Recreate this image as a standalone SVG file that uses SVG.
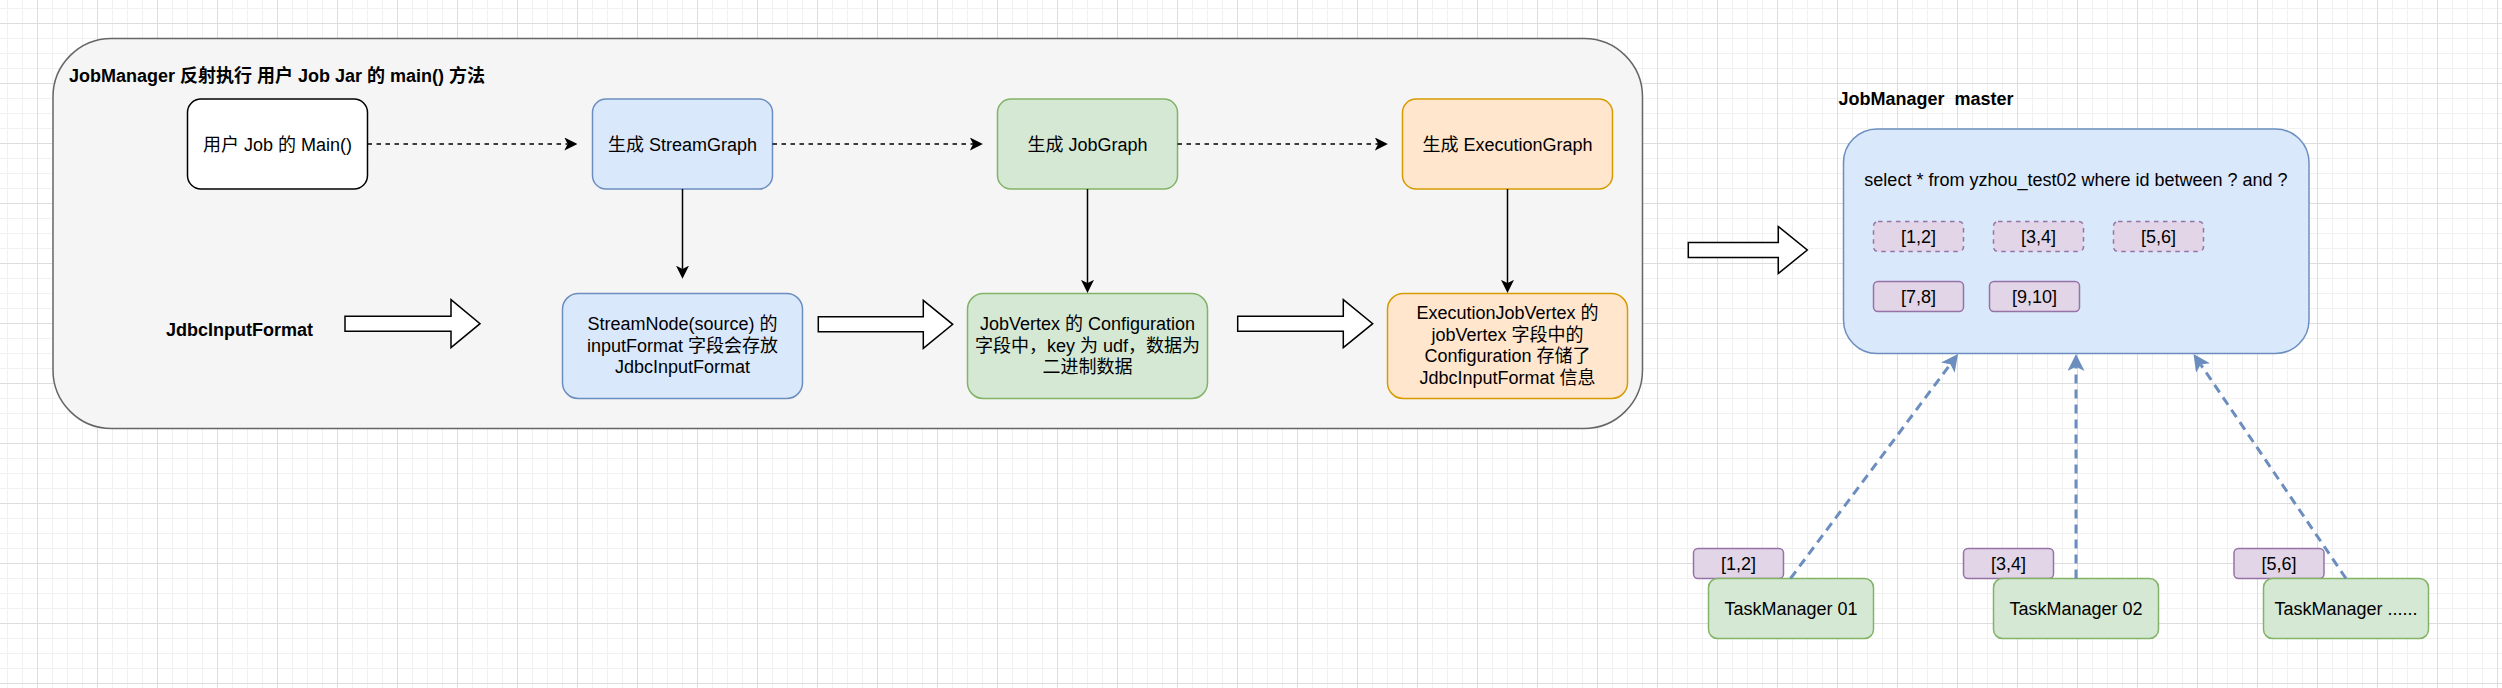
<svg xmlns="http://www.w3.org/2000/svg" width="2502" height="688" viewBox="0 0 2502 688">
<defs>
<style>
text{font-family:"Liberation Sans",Arial,"Noto Sans CJK SC",sans-serif;font-size:18px;fill:#000}
.b{font-weight:bold}
.c{text-anchor:middle}
.pre{white-space:pre}
.ctr{fill:#f5f5f5;stroke:#666666;stroke-width:1.5}
.white{fill:#ffffff;stroke:#000000;stroke-width:1.5}
.blue{fill:#dae8fc;stroke:#6c8ebf;stroke-width:1.5}
.green{fill:#d5e8d4;stroke:#82b366;stroke-width:1.5}
.orange{fill:#ffe6cc;stroke:#d79b00;stroke-width:1.5}
.purple{fill:#e1d5e7;stroke:#9673a6;stroke-width:1.5}
.dsh{stroke-dasharray:4.5 4.5}
.edge{fill:none;stroke:#000000;stroke-width:1.5}
.dotted{stroke-dasharray:4.5 4.5}
.bedge{fill:none;stroke:#6c8ebf;stroke-width:3;stroke-dasharray:9 6}
.hollow{fill:#ffffff;stroke:#000000;stroke-width:1.5;stroke-linejoin:miter}
</style>
<pattern id="gminor" width="15" height="15" patternUnits="userSpaceOnUse" x="37" y="23">
<path d="M0 0.5H15M0.5 0V15" stroke="#f1f1f1" stroke-width="1" fill="none"/>
</pattern>
<pattern id="gmajor" width="60" height="60" patternUnits="userSpaceOnUse" x="37" y="23">
<path d="M0 0.5H60M0.5 0V60" stroke="#dddddd" stroke-width="1" fill="none"/>
</pattern>
<marker id="ah" markerUnits="userSpaceOnUse" markerWidth="13" markerHeight="13" viewBox="0 0 12.5 12.5" refX="3.1" refY="6.25" orient="auto">
<path d="M0 0L12.5 6.25L0 12.5L3.1 6.25Z" fill="#000000"/>
</marker>
<marker id="bh" markerUnits="userSpaceOnUse" markerWidth="17" markerHeight="17" viewBox="0 0 17 17" refX="4.25" refY="8.5" orient="auto">
<path d="M0 0L17 8.5L0 17L4.25 8.5Z" fill="#6c8ebf"/>
</marker>
</defs>

<g id="background">
<rect x="0" y="0" width="2502" height="688" fill="#ffffff"/>
<rect x="0" y="0" width="2502" height="688" fill="url(#gminor)"/>
<rect x="0" y="0" width="2502" height="688" fill="url(#gmajor)"/>
</g>

<g id="container">
<rect class="ctr" x="53" y="38.5" width="1589.5" height="390" rx="58.5" ry="58.5"/>
<text class="b" x="69" y="82">JobManager 反射执行 用户 Job Jar 的 main() 方法</text>
</g>

<g id="node-main">
<rect class="white" x="187.5" y="99" width="180" height="90" rx="13.5" ry="13.5"/>
<text class="c" x="277.5" y="150.5">用户 Job 的 Main()</text>
</g>
<g id="node-streamgraph">
<rect class="blue" x="592.5" y="99" width="180" height="90" rx="13.5" ry="13.5"/>
<text class="c" x="682.5" y="150.5">生成 StreamGraph</text>
</g>
<g id="node-jobgraph">
<rect class="green" x="997.5" y="99" width="180" height="90" rx="13.5" ry="13.5"/>
<text class="c" x="1087.5" y="150.5">生成 JobGraph</text>
</g>
<g id="node-executiongraph">
<rect class="orange" x="1402.5" y="99" width="210" height="90" rx="13.5" ry="13.5"/>
<text class="c" x="1507.5" y="150.5">生成 ExecutionGraph</text>
</g>

<g id="node-jdbcinputformat">
<text class="b c" x="239.5" y="335.5">JdbcInputFormat</text>
</g>
<g id="node-streamnode">
<rect class="blue" x="562.5" y="293.5" width="240" height="105" rx="15.75" ry="15.75"/>
<text class="c" x="682.5" y="330">StreamNode(source) 的</text>
<text class="c" x="682.5" y="351.6">inputFormat 字段会存放</text>
<text class="c" x="682.5" y="373.2">JdbcInputFormat</text>
</g>
<g id="node-jobvertex">
<rect class="green" x="967.5" y="293.5" width="240" height="105" rx="15.75" ry="15.75"/>
<text class="c" x="1087.5" y="330">JobVertex 的 Configuration</text>
<text class="c" x="1087.5" y="351.6">字段中，key 为 udf，数据为</text>
<text class="c" x="1087.5" y="373.2">二进制数据</text>
</g>
<g id="node-executionjobvertex">
<rect class="orange" x="1387.5" y="293.5" width="240" height="105" rx="15.75" ry="15.75"/>
<text class="c" x="1507.5" y="319.2">ExecutionJobVertex 的</text>
<text class="c" x="1507.5" y="340.8">jobVertex 字段中的</text>
<text class="c" x="1507.5" y="362.4">Configuration 存储了</text>
<text class="c" x="1507.5" y="384">JdbcInputFormat 信息</text>
</g>

<g id="node-master-label">
<text class="b pre" x="1838.5" y="104.8" xml:space="preserve">JobManager  master</text>
</g>
<g id="node-master">
<rect class="blue" x="1843.5" y="129" width="465.5" height="224.5" rx="33.6" ry="33.6"/>
<text class="c" x="2076" y="186">select * from yzhou_test02 where id between ? and ?</text>
</g>
<g id="node-split-1-2">
<rect class="purple dsh" x="1873.5" y="221.5" width="90" height="30" rx="4.5" ry="4.5"/>
<text class="c" x="1918.5" y="243">[1,2]</text>
</g>
<g id="node-split-3-4">
<rect class="purple dsh" x="1993.5" y="221.5" width="90" height="30" rx="4.5" ry="4.5"/>
<text class="c" x="2038.5" y="243">[3,4]</text>
</g>
<g id="node-split-5-6">
<rect class="purple dsh" x="2113.5" y="221.5" width="90" height="30" rx="4.5" ry="4.5"/>
<text class="c" x="2158.5" y="243">[5,6]</text>
</g>
<g id="node-split-7-8">
<rect class="purple" x="1873.5" y="281.5" width="90" height="30" rx="4.5" ry="4.5"/>
<text class="c" x="1918.5" y="303">[7,8]</text>
</g>
<g id="node-split-9-10">
<rect class="purple" x="1989.5" y="281.5" width="90" height="30" rx="4.5" ry="4.5"/>
<text class="c" x="2034.5" y="303">[9,10]</text>
</g>

<g id="node-tm1-split">
<rect class="purple" x="1693.5" y="548.5" width="90" height="30" rx="4.5" ry="4.5"/>
<text class="c" x="1738.5" y="570">[1,2]</text>
</g>
<g id="node-tm1">
<rect class="green" x="1708.5" y="578.5" width="165" height="60" rx="9" ry="9"/>
<text class="c" x="1791" y="614.5">TaskManager 01</text>
</g>
<g id="node-tm2-split">
<rect class="purple" x="1963.5" y="548.5" width="90" height="30" rx="4.5" ry="4.5"/>
<text class="c" x="2008.5" y="570">[3,4]</text>
</g>
<g id="node-tm2">
<rect class="green" x="1993.5" y="578.5" width="165" height="60" rx="9" ry="9"/>
<text class="c" x="2076" y="614.5">TaskManager 02</text>
</g>
<g id="node-tm3-split">
<rect class="purple" x="2234" y="548.5" width="90" height="30" rx="4.5" ry="4.5"/>
<text class="c" x="2279" y="570">[5,6]</text>
</g>
<g id="node-tm3">
<rect class="green" x="2263.5" y="578.5" width="165" height="60" rx="9" ry="9"/>
<text class="c" x="2346" y="614.5">TaskManager ......</text>
</g>

<g id="connectors">
<path class="edge dotted" d="M367.5 144H567.6" marker-end="url(#ah)"/>
<path class="edge dotted" d="M772.5 144H973.1" marker-end="url(#ah)"/>
<path class="edge dotted" d="M1177.5 144H1378.1" marker-end="url(#ah)"/>
<path class="edge" d="M682.5 189V268.9" marker-end="url(#ah)"/>
<path class="edge" d="M1087.5 189V283.1" marker-end="url(#ah)"/>
<path class="edge" d="M1507.5 189V283.1" marker-end="url(#ah)"/>
<polygon class="hollow" points="345,316.2 451,316.2 451,299.7 480,323.7 451,347.7 451,331.2 345,331.2"/>
<polygon class="hollow" points="818.3,316.8 923.3,316.8 923.3,300.3 952.7,324.3 923.3,348.3 923.3,331.8 818.3,331.8"/>
<polygon class="hollow" points="1237.7,316.2 1343.3,316.2 1343.3,299.7 1372.7,323.7 1343.3,347.7 1343.3,331.2 1237.7,331.2"/>
<polygon class="hollow" points="1688.3,242.5 1778.3,242.5 1778.3,226.5 1807.3,250 1778.3,273.5 1778.3,257.5 1688.3,257.5"/>
<path class="bedge" d="M1790.5 578.5L1950.4 364.2" marker-end="url(#bh)"/>
<path class="bedge" d="M2076 578.5V366.75" marker-end="url(#bh)"/>
<path class="bedge" d="M2346 578.5L2200.7 364.5" marker-end="url(#bh)"/>
</g>
</svg>
